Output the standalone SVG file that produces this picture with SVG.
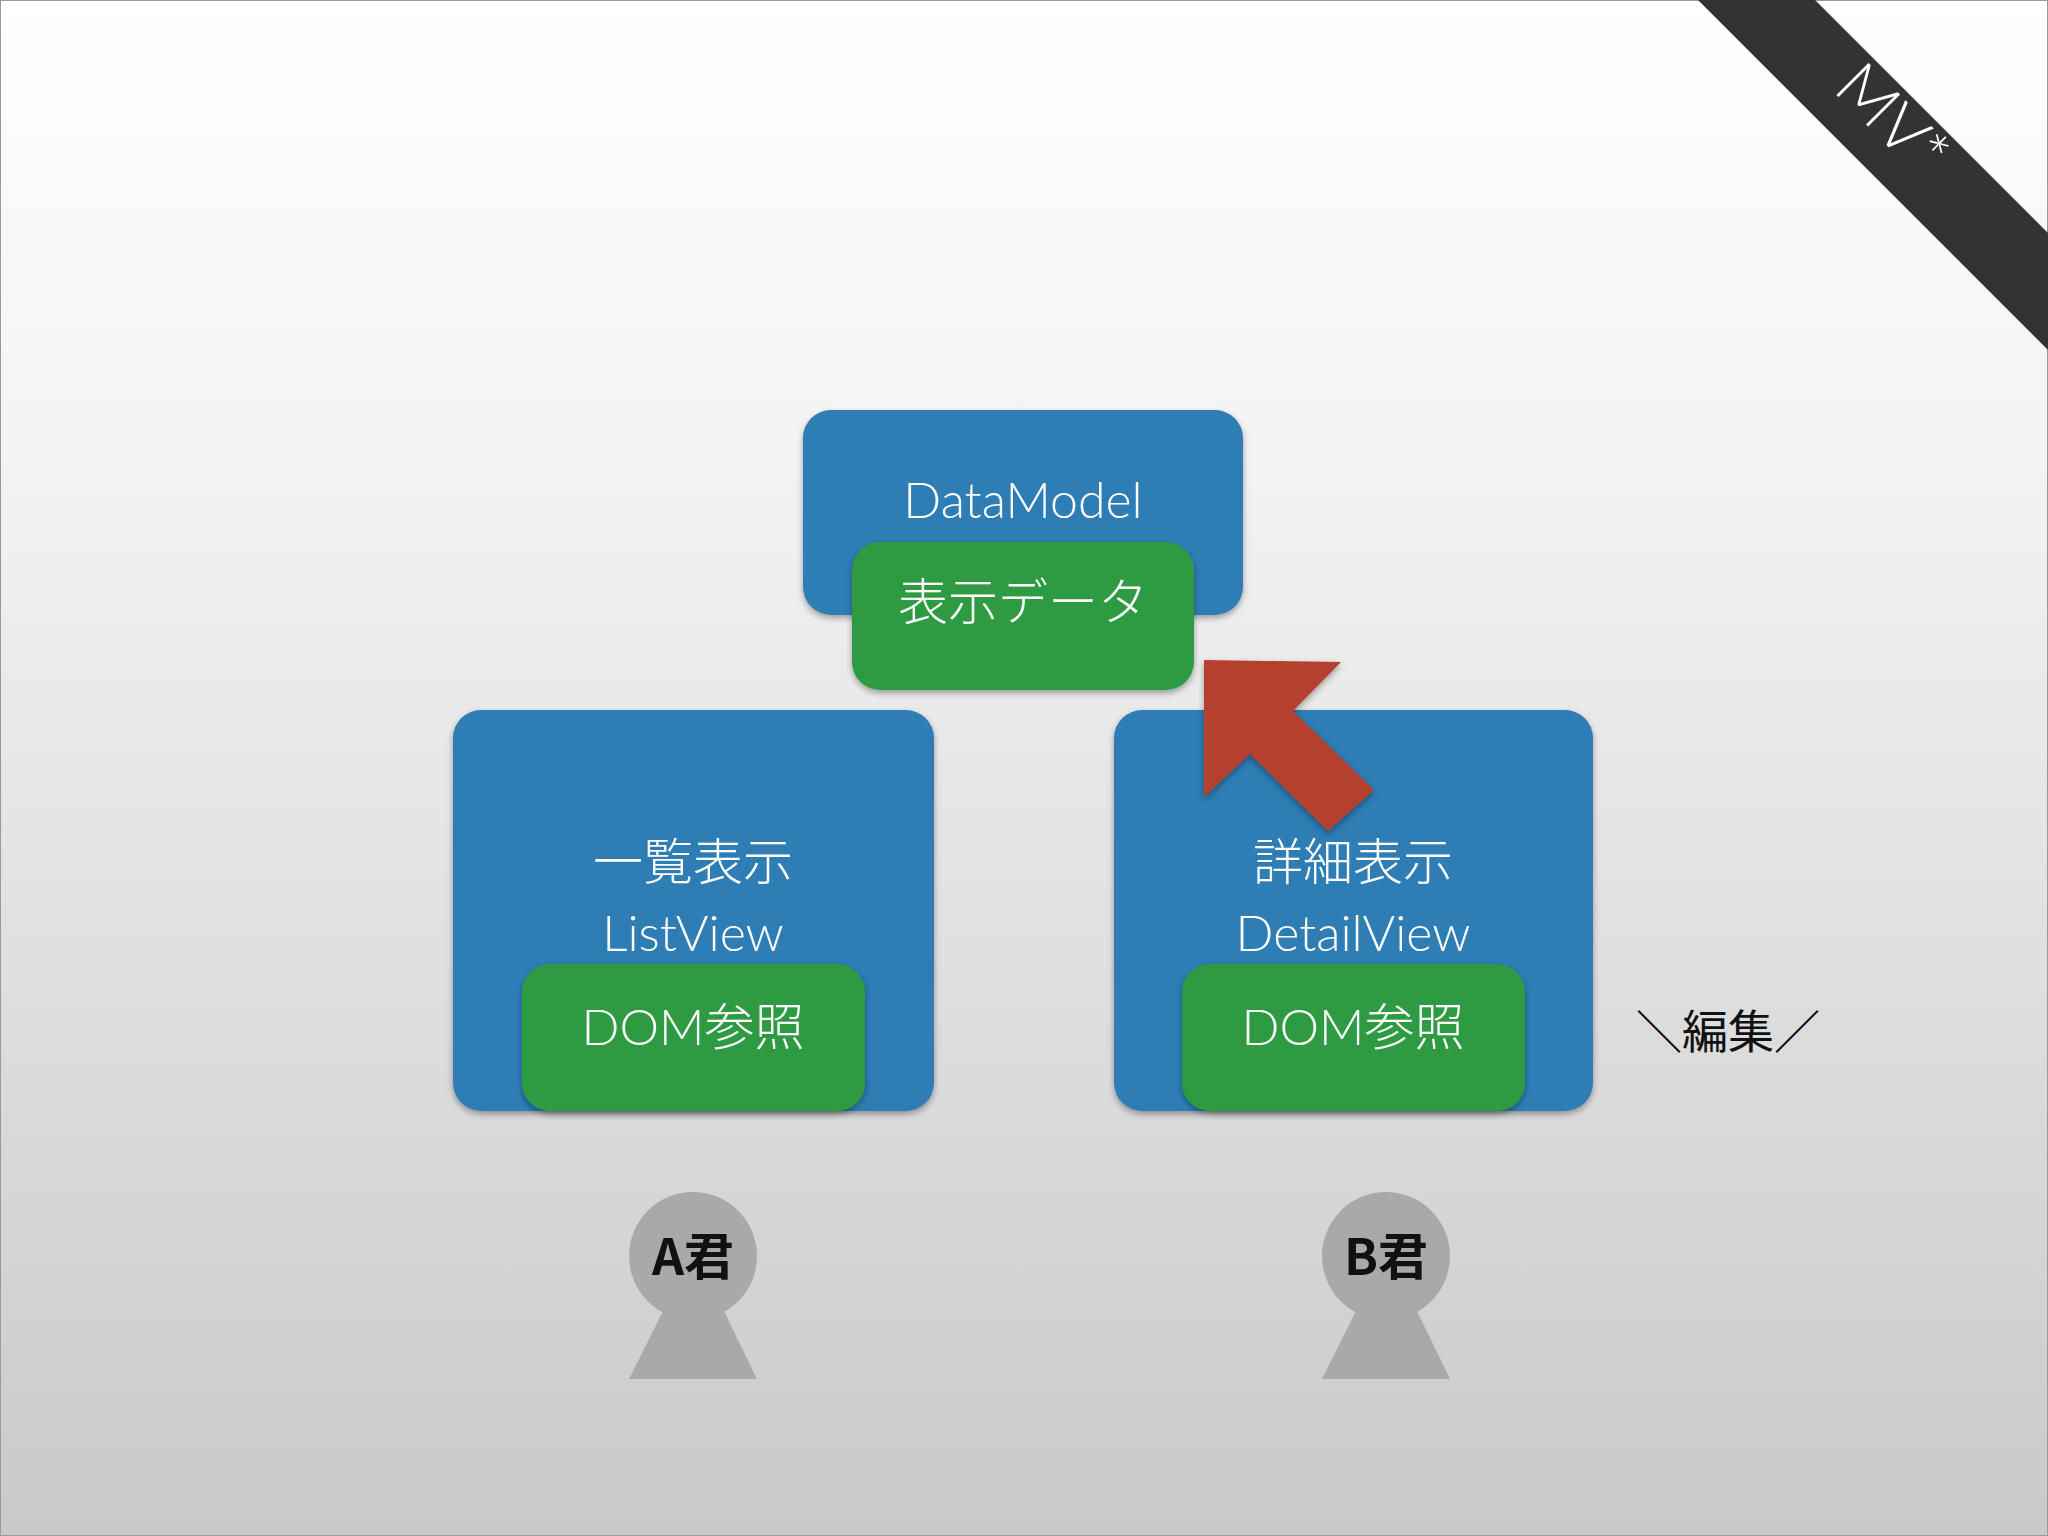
<svg xmlns="http://www.w3.org/2000/svg" width="2048" height="1536" viewBox="0 0 2048 1536">
<defs>
<linearGradient id="bg" x1="0" y1="0" x2="0" y2="1"><stop offset="0" stop-color="#ffffff"/><stop offset="0.3" stop-color="#f3f3f3"/><stop offset="1" stop-color="#c9c9cb"/></linearGradient>
<filter id="sh" x="-10%" y="-10%" width="120%" height="130%"><feDropShadow dx="0" dy="3" stdDeviation="3" flood-opacity="0.35"/></filter>
</defs>
<style>
.blue{fill:#2e7db5;filter:url(#sh)}
.green{fill:#2f9a43;filter:url(#sh)}
.t{font-family:"Lato","Noto Sans CJK JP",sans-serif;font-size:50px;fill:#fff;text-anchor:middle;font-weight:300}
.p{fill:#a8a9ab}
.pt{font-family:"Noto Sans CJK JP",sans-serif;font-size:50px;font-weight:bold;fill:#111;text-anchor:middle}
</style>
<rect width="2048" height="1536" fill="url(#bg)" stroke="#999" stroke-width="2"/>
<polygon points="1698,0 1815,0 2048,233 2048,350" fill="#333"/>
<text x="1888" y="140" transform="rotate(45 1888 124)" font-family="Lato,sans-serif" font-size="64" fill="#fff" text-anchor="middle" font-weight="300">MV*</text>
<g id="datamodel"><rect class="blue" x="803" y="410" width="440" height="205" rx="28"/><text class="t" x="1023" y="518">DataModel</text></g>
<g id="hyoji"><rect class="green" x="852" y="542" width="342" height="148" rx="28"/><text class="t" x="1023" y="620">表示データ</text></g>
<g id="listview"><rect class="blue" x="453" y="710" width="481" height="401" rx="28"/><text class="t" x="693" y="880">一覧表示</text><text class="t" x="693" y="951">ListView</text></g>
<g id="dom1"><rect class="green" x="522" y="964" width="343" height="147" rx="28"/><text class="t" x="693" y="1045">DOM参照</text></g>
<g id="detailview"><rect class="blue" x="1114" y="710" width="479" height="401" rx="28"/><text class="t" x="1353" y="880">詳細表示</text><text class="t" x="1353" y="951">DetailView</text></g>
<g id="dom2"><rect class="green" x="1182" y="964" width="343" height="147" rx="28"/><text class="t" x="1353" y="1045">DOM参照</text></g>
<g id="connectors"><polygon points="1204,660 1341,662 1293,711 1374,790 1328,831 1250,754 1204,797" fill="#b5402f" filter="url(#sh)"/></g>
<text x="1728" y="1048" font-family="Noto Sans CJK JP,sans-serif" font-size="46" fill="#111" text-anchor="middle">＼編集／</text>
<g id="personA"><circle class="p" cx="693" cy="1256" r="64"/><polygon class="p" points="666,1305 721,1305 757,1379 629,1379"/><text class="pt" x="693" y="1275">A君</text></g>
<g id="personB"><circle class="p" cx="1386" cy="1256" r="64"/><polygon class="p" points="1359,1305 1414,1305 1450,1379 1322,1379"/><text class="pt" x="1386" y="1275">B君</text></g>
</svg>
